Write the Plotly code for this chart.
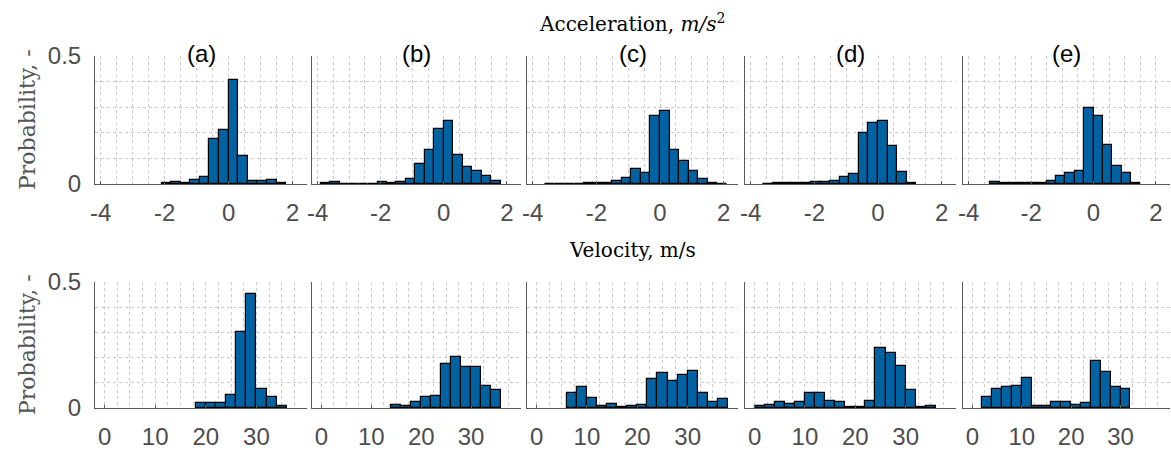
import plotly.graph_objects as go

# ---------------- data ----------------
panel_labels = ["(a)", "(b)", "(c)", "(d)", "(e)"]

acc_bin_width = 0.3
acc_bin_start = [-2.1, -3.9, -3.6, -3.6, -3.3]
acc_a = [0.005, 0.007, 0.003, 0.014, 0.026, 0.174, 0.21, 0.405, 0.11, 0.013, 0.013, 0.017, 0.003]
acc_b = [0.004, 0.009, 0.001, 0.001, 0.001, 0.001, 0.006, 0.005, 0.008, 0.018, 0.078, 0.131,
         0.213, 0.247, 0.113, 0.068, 0.052, 0.031, 0.012]
acc_c = [0.001, 0.001, 0.001, 0.001, 0.002, 0.002, 0.003, 0.01, 0.023, 0.06, 0.043, 0.265,
         0.286, 0.132, 0.088, 0.051, 0.021, 0.003, 0.001]
acc_d = [0.001, 0.004, 0.002, 0.002, 0.005, 0.009, 0.008, 0.013, 0.029, 0.04, 0.2, 0.239,
         0.247, 0.148, 0.045, 0.005]
acc_e = [0.008, 0.005, 0.005, 0.003, 0.003, 0.003, 0.01, 0.03, 0.044, 0.051, 0.297, 0.265,
         0.152, 0.069, 0.042, 0.004]

vel_bin_width = 2
vel_bin_start = [18, 14, 6, 0, 2]
vel_a = [0.021, 0.019, 0.021, 0.053, 0.302, 0.454, 0.075, 0.044, 0.009]
vel_b = [0.011, 0.008, 0.024, 0.042, 0.046, 0.173, 0.201, 0.164, 0.164, 0.086, 0.071]
vel_c = [0.058, 0.085, 0.04, 0.009, 0.017, 0.005, 0.007, 0.011, 0.116, 0.14, 0.107, 0.131,
         0.148, 0.058, 0.025, 0.037]
vel_d = [0.007, 0.011, 0.022, 0.017, 0.022, 0.061, 0.061, 0.029, 0.025, 0.003, 0.003, 0.026,
         0.237, 0.217, 0.165, 0.073, 0.005, 0.009]
vel_e = [0.045, 0.074, 0.085, 0.089, 0.119, 0.009, 0.008, 0.022, 0.022, 0.013, 0.021, 0.185,
         0.144, 0.085, 0.077]

acc_ticks = [-4, -2, 0, 2]
acc_ticktext = ["-4", "-2", "0", "2"]
vel_ticks = [0, 10, 20, 30]
vel_ticktext = ["0", "10", "20", "30"]
y_ticks = [0, 0.5]
y_ticktext = ["0", "0.5"]

acc_series = [acc_a, acc_b, acc_c, acc_d, acc_e]
vel_series = [vel_a, vel_b, vel_c, vel_d, vel_e]

# ---------------- layout geometry ----------------
W, H = 1171, 453
col_px = [(95, 307), (312, 521), (527, 738), (745, 956), (963, 1170)]
row_px = [(56, 184), (282, 408)]  # top/bottom pixel of each row's plot area

BAR_COLOR = "#0062a1"
TICK_FONT = dict(family="Liberation Sans, Arial, sans-serif", size=24, color="#4d4d4d")
SERIF = "DejaVu Serif, serif"
GRID = "#c9c9c9"

fig = go.Figure()
layout = {}

for r in range(2):
    for c in range(5):
        idx = r * 5 + c + 1
        xa = "x" if idx == 1 else f"x{idx}"
        ya = "y" if idx == 1 else f"y{idx}"
        xkey = "xaxis" if idx == 1 else f"xaxis{idx}"
        ykey = "yaxis" if idx == 1 else f"yaxis{idx}"

        if r == 0:
            vals = acc_series[c]
            bw = acc_bin_width
            start = acc_bin_start[c]
        else:
            vals = vel_series[c]
            bw = vel_bin_width
            start = vel_bin_start[c]
        centers = [start + bw * (i + 0.5) for i in range(len(vals))]

        fig.add_trace(go.Bar(
            x=centers, y=vals, width=[bw] * len(vals), xaxis=xa, yaxis=ya,
            marker=dict(color=BAR_COLOR, line=dict(color="black", width=1.2)),
            showlegend=False, hoverinfo="skip",
        ))

        x0, x1 = col_px[c]
        t, b = row_px[r]
        if r == 0:
            xr = [-4.18, 2.45]
            tv, tt = acc_ticks, acc_ticktext
            mdt = 0.5
        else:
            xr = [-1.9, 40.0]
            tv, tt = vel_ticks, vel_ticktext
            mdt = 2.5
        layout[xkey] = dict(
            domain=[x0 / W, x1 / W], anchor=ya, range=xr, automargin=False,
            tickmode="array", tickvals=tv, ticktext=tt, tickfont=TICK_FONT,
            ticklabelstandoff=7,
            showline=True, linecolor="#5a5a5a", linewidth=1,
            ticks="inside", ticklen=3, tickcolor="#5a5a5a",
            showgrid=True, gridcolor=GRID, griddash="dot", gridwidth=1,
            minor=dict(dtick=mdt, tick0=0, showgrid=True, gridcolor=GRID, griddash="dot",
                       gridwidth=1, ticks=""),
            zeroline=False, fixedrange=True,
        )
        yax = dict(
            domain=[1 - b / H, 1 - t / H], anchor=xa, range=[0, 0.5], automargin=False,
            tickmode="array", tickvals=y_ticks,
            showticklabels=(c == 0), tickfont=TICK_FONT, ticklabelstandoff=8,
            showline=True, linecolor="#5a5a5a", linewidth=1,
            ticks="inside", ticklen=3, tickcolor="#5a5a5a",
            showgrid=True, gridcolor=GRID, griddash="dot", gridwidth=1,
            minor=dict(dtick=0.1, tick0=0, showgrid=True, gridcolor=GRID, griddash="dot",
                       gridwidth=1, ticks=""),
            zeroline=False, fixedrange=True,
        )
        if c == 0:
            yax["ticktext"] = y_ticktext
        layout[ykey] = yax

annotations = []
for c in range(5):
    x0, x1 = col_px[c]
    annotations.append(dict(
        text=panel_labels[c], x=(x0 + x1) / 2 / W, y=1 - 54 / H, xref="paper", yref="paper",
        xanchor="center", yanchor="middle", showarrow=False,
        font=dict(family="Liberation Sans, Arial, sans-serif", size=24, color="black"),
    ))

annotations.append(dict(
    text="Acceleration, <i>m/s</i><sup>2</sup>", x=632 / W, y=1 - 23 / H,
    xref="paper", yref="paper", xanchor="center", yanchor="middle", showarrow=False,
    font=dict(family=SERIF, size=20, color="black"),
))
annotations.append(dict(
    text="Velocity, m/s", x=632 / W, y=1 - 250 / H,
    xref="paper", yref="paper", xanchor="center", yanchor="middle", showarrow=False,
    font=dict(family=SERIF, size=20, color="black"),
))
for r in range(2):
    t, b = row_px[r]
    annotations.append(dict(
        text="Probability, -", x=27 / W, y=1 - (t + b) / 2 / H,
        xref="paper", yref="paper", xanchor="center", yanchor="middle", showarrow=False,
        textangle=-90, font=dict(family=SERIF, size=22, color="#555555"),
    ))

fig.update_layout(
    width=W, height=H, margin=dict(l=0, r=0, t=0, b=0, autoexpand=False),
    paper_bgcolor="white", plot_bgcolor="white",
    bargap=0, annotations=annotations, **layout,
)

fig.write_html("out.html", config={"displayModeBar": False})
